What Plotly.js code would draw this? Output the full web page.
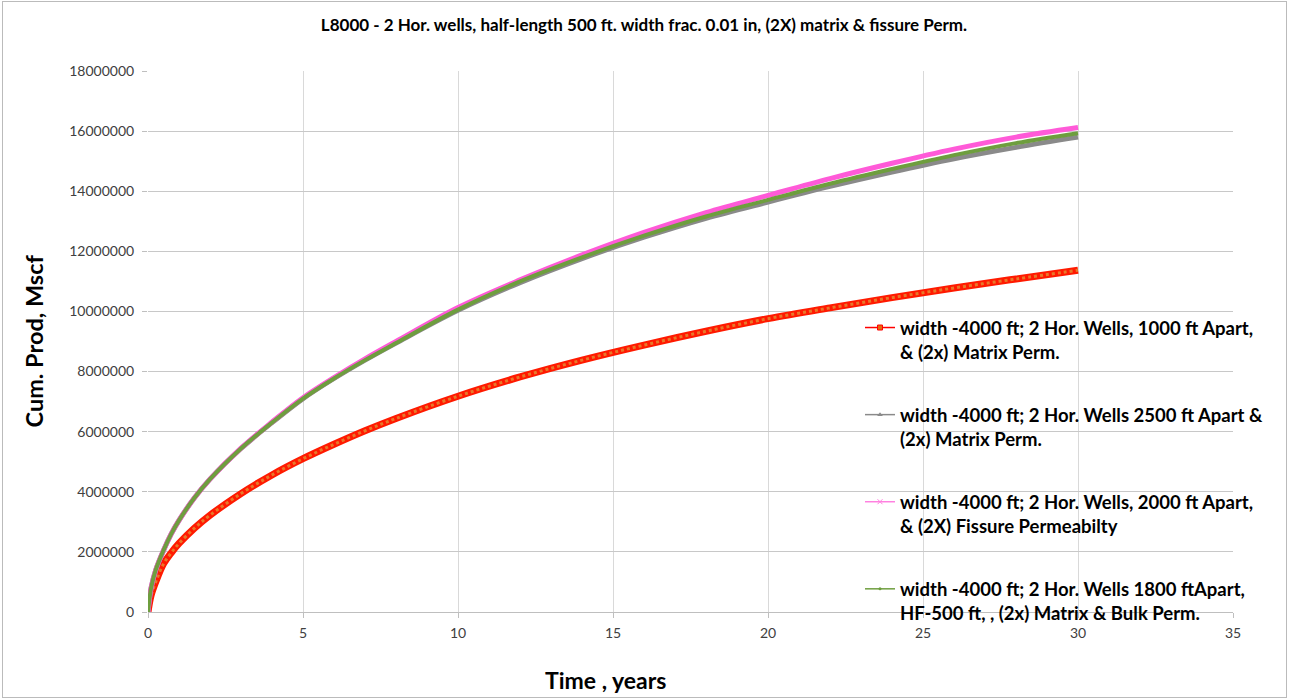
<!DOCTYPE html>
<html>
<head>
<meta charset="utf-8">
<script src="https://cdn.plot.ly/plotly-3.0.1.min.js"></script>
<style>
  html, body { margin: 0; padding: 0; background: #fff; }
  #wrap { position: relative; width: 1289px; height: 700px; }
  #chart { width: 1289px; height: 700px; }
  #frame { position: absolute; left: 2px; top: 1px; width: 1285px; height: 697px; border: 1px solid #BBBBBB; box-sizing: border-box; pointer-events: none; }
</style>
</head>
<body>
<div id="wrap"><div id="chart"></div><div id="frame"></div></div>
<script>
// Time, years
const timeYears = [0, 0.1, 0.25, 0.5, 0.75, 1, 1.5, 2, 3, 4, 5, 6, 7, 8, 10, 12, 14, 16, 18, 20, 22, 24, 26, 28, 30];

// Cumulative production, Mscf
const red1000Apart = [0, 550000, 1000000, 1600000, 1970000, 2280000, 2790000, 3220000, 3940000, 4560000, 5100000, 5580000, 6030000, 6440000, 7180000, 7820000, 8380000, 8880000, 9340000, 9760000, 10120000, 10460000, 10780000, 11080000, 11370000];
const gray2500Apart = [0, 800000, 1400000, 2050000, 2600000, 3050000, 3800000, 4420000, 5440000, 6300000, 7100000, 7770000, 8380000, 8950000, 10040000, 10960000, 11760000, 12470000, 13100000, 13640000, 14160000, 14640000, 15080000, 15460000, 15800000];
const pink2000Apart = [0, 800000, 1400000, 2050000, 2600000, 3050000, 3800000, 4420000, 5450000, 6320000, 7130000, 7800000, 8420000, 9000000, 10130000, 11050000, 11880000, 12630000, 13290000, 13860000, 14420000, 14930000, 15400000, 15800000, 16120000];
const green1800Apart = [0, 800000, 1400000, 2050000, 2600000, 3050000, 3800000, 4420000, 5440000, 6300000, 7100000, 7770000, 8380000, 8950000, 10060000, 11000000, 11800000, 12520000, 13160000, 13710000, 14250000, 14740000, 15200000, 15600000, 15930000];

const seriesNames = [
  "width -4000 ft; 2 Hor. Wells, 1000 ft Apart,<br>& (2x) Matrix Perm.",
  "width -4000 ft; 2 Hor. Wells 2500 ft Apart &<br>(2x) Matrix Perm.",
  "width -4000 ft; 2 Hor. Wells, 2000 ft Apart,<br>& (2X) Fissure Permeabilty",
  "width -4000 ft; 2 Hor. Wells 1800 ftApart,<br>HF-500 ft, , (2x) Matrix & Bulk Perm."
];

const xTickVals = [0, 5, 10, 15, 20, 25, 30, 35];
const yTickVals = [0, 2000000, 4000000, 6000000, 8000000, 10000000, 12000000, 14000000, 16000000, 18000000];

const FONT = "Lato, 'Liberation Sans', sans-serif";

const traces = [
  // plotted curves (no legend)
  {x: timeYears, y: red1000Apart, mode: 'lines', line: {color: '#FF1A00', width: 7, shape: 'spline', smoothing: 1}, showlegend: false, hoverinfo: 'skip'},
  {x: timeYears, y: red1000Apart, mode: 'lines', line: {color: '#E8782A', width: 3, dash: 'dot', shape: 'spline', smoothing: 1}, showlegend: false, hoverinfo: 'skip'},
  {x: timeYears, y: gray2500Apart, mode: 'lines', line: {color: '#8A8A8A', width: 5, shape: 'spline', smoothing: 1}, showlegend: false, hoverinfo: 'skip'},
  {x: timeYears, y: pink2000Apart, mode: 'lines', line: {color: '#FF5AD8', width: 5, shape: 'spline', smoothing: 1}, showlegend: false, hoverinfo: 'skip'},
  {x: timeYears, y: green1800Apart, mode: 'lines', line: {color: '#6E9E3E', width: 4, shape: 'spline', smoothing: 1}, showlegend: false, hoverinfo: 'skip'},
  // legend proxies
  {x: [null], y: [null], name: seriesNames[0], legendgroup: 'a', mode: 'lines+markers', line: {color: '#FF0000', width: 1.5}, marker: {symbol: 'square', size: 5, color: '#E46C0A', line: {color: '#FF0000', width: 1}}},
  {x: [null], y: [null], name: seriesNames[1], legendgroup: 'b', mode: 'lines+markers', line: {color: '#8A8A8A', width: 1.5}, marker: {symbol: 'triangle-up', size: 5, color: '#8A8A8A'}},
  {x: [null], y: [null], name: seriesNames[2], legendgroup: 'c', mode: 'lines+markers', line: {color: '#FF80E0', width: 1.5}, marker: {symbol: 'x-thin', size: 5, color: '#FF80E0', line: {color: '#FF80E0', width: 1}}},
  {x: [null], y: [null], name: seriesNames[3], legendgroup: 'd', mode: 'lines+markers', line: {color: '#6E9E3E', width: 1.5}, marker: {symbol: 'circle', size: 3, color: '#6E9E3E'}}
];

const layout = {
  width: 1289, height: 700,
  margin: {l: 148, r: 56, t: 71, b: 88, pad: 0},
  paper_bgcolor: '#FFFFFF', plot_bgcolor: '#FFFFFF',
  font: {family: FONT, color: '#404040', size: 14},
  title: {text: 'L8000 - 2 Hor. wells, half-length 500 ft. width frac. 0.01 in, (2X) matrix & fissure Perm.',
          font: {family: FONT, size: 17, color: '#000000', weight: 'bold'},
          x: (644 - 148) / 1085, xanchor: 'center', xref: 'paper', y: 1 - 25/700, yref: 'container', yanchor: 'middle'},
  xaxis: {range: [0, 35], tickvals: xTickVals, ticktext: xTickVals.map(String),
          showgrid: true, gridcolor: '#D9D9D9', gridwidth: 1,
          zeroline: false, showline: true, linecolor: '#BFBFBF', linewidth: 1,
          ticks: 'outside', ticklen: 5, tickcolor: '#BFBFBF', ticklabelstandoff: 3,
          tickfont: {family: FONT, size: 14, color: '#404040'}, fixedrange: true},
  yaxis: {range: [0, 18000000], tickvals: yTickVals, ticktext: yTickVals.map(String),
          showgrid: true, gridcolor: '#C8C8C8', gridwidth: 1,
          zeroline: false, showline: false,
          ticks: 'outside', ticklen: 5, tickcolor: '#BFBFBF', ticklabelstandoff: 5,
          tickfont: {family: FONT, size: 14, color: '#404040'}, fixedrange: true},
  showlegend: true,
  legend: {x: (860 - 148) / 1085, xanchor: 'left', y: (612 - 309) / 541, yanchor: 'top',
           bgcolor: 'rgba(0,0,0,0)', borderwidth: 0,
           font: {family: FONT, size: 18.5, color: '#000000', weight: 'bold'},
           traceorder: 'grouped', tracegroupgap: 36, valign: 'top', itemwidth: 30},
  annotations: [
    {text: 'Cum. Prod, Mscf', xref: 'paper', yref: 'paper', x: (33 - 148) / 1085, y: 0.5,
     textangle: -90, showarrow: false, xanchor: 'center', yanchor: 'middle',
     font: {family: FONT, size: 23.5, color: '#000000', weight: 'bold'}},
    {text: 'Time , years', xref: 'paper', yref: 'paper', x: (605 - 148) / 1085, y: (612 - 680) / 541,
     showarrow: false, xanchor: 'center', yanchor: 'middle',
     font: {family: FONT, size: 23, color: '#000000', weight: 'bold'}}
  ]
};

Plotly.newPlot('chart', traces, layout, {displayModeBar: false, staticPlot: true});
</script>
</body>
</html>
